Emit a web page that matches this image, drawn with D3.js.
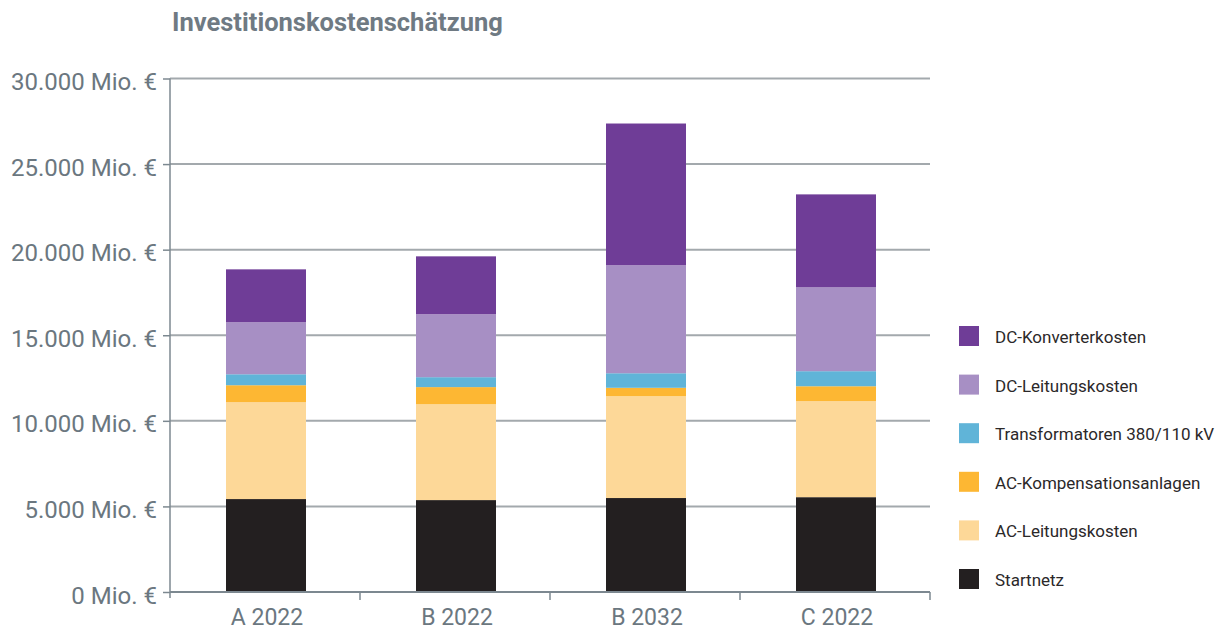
<!DOCTYPE html>
<html>
<head>
<meta charset="utf-8">
<script src="https://cdn.jsdelivr.net/npm/d3@7"></script>
<style>
  html, body { margin: 0; padding: 0; background: #fff; }
  svg { display: block; font-family: Roboto, "Open Sans", sans-serif; }
</style>
</head>
<body>
<svg id="chart" width="1219" height="631"></svg>
<script>
// Kategorien (Szenarien) und Kosten je Kategorie in Mio. €
const scenarios = ["A 2022", "B 2022", "B 2032", "C 2022"];
const startnetz          = [5430, 5370, 5490, 5540];
const acLeitungskosten   = [5660, 5600, 5950, 5610];
const acKompensation     = [990, 1000, 490, 870];
const transformatoren    = [640, 580, 850, 880];
const dcLeitungskosten   = [3040, 3680, 6310, 4900];
const dcKonverterkosten  = [3090, 3380, 8280, 5430];

// Reihen von unten nach oben gestapelt
const seriesNames = [
  "Startnetz",
  "AC-Leitungskosten",
  "AC-Kompensationsanlagen",
  "Transformatoren 380/110 kV",
  "DC-Leitungskosten",
  "DC-Konverterkosten"
];
const seriesValues = [startnetz, acLeitungskosten, acKompensation, transformatoren, dcLeitungskosten, dcKonverterkosten];
const seriesColors = ["#231f20", "#fdd898", "#fdb733", "#60b4d8", "#a78fc4", "#6f3d97"];

const yTicks = [0, 5000, 10000, 15000, 20000, 25000, 30000];
const title = "Investitionskostenschätzung";

const svg = d3.select("#chart");
const margin = { left: 170, right: 930, top: 78.5, bottom: 592 };

const rows = scenarios.map((s, i) => {
  const r = { scenario: s };
  seriesNames.forEach((n, k) => { r[n] = seriesValues[k][i]; });
  return r;
});
const stacked = d3.stack().keys(seriesNames)(rows);

const x = d3.scaleBand().domain(scenarios).range([margin.left, margin.right]).paddingInner(0).paddingOuter(0);
const y = d3.scaleLinear().domain([0, 30000]).range([margin.bottom, margin.top]);
const color = d3.scaleOrdinal().domain(seriesNames).range(seriesColors);

const de = d3.formatLocale({ decimal: ",", thousands: ".", grouping: [3], currency: ["", " €"] });
const fmt = v => de.format(",.0f")(v) + " Mio. €";

const axisColor = "#7c8890";
const labelColor = "#6b7780";

// Titel
svg.append("text")
  .attr("x", 172).attr("y", 31)
  .attr("font-size", 25.5).attr("font-weight", 700)
  .attr("fill", "#6f7a83")
  .text(title);

// Gitterlinien
svg.append("g").selectAll("line")
  .data(yTicks.filter(t => t > 0))
  .join("line")
  .attr("x1", margin.left).attr("x2", margin.right)
  .attr("y1", d => y(d)).attr("y2", d => y(d))
  .attr("stroke", "#a3a9ad").attr("stroke-width", 2);

// Balken
svg.append("g").selectAll("g")
  .data(stacked)
  .join("g")
  .attr("fill", d => color(d.key))
  .selectAll("rect")
  .data(d => d)
  .join("rect")
  .attr("x", d => x(d.data.scenario) + (x.bandwidth() - 80) / 2 + 1)
  .attr("width", 80)
  .attr("y", d => y(d[1]))
  .attr("height", d => y(d[0]) - y(d[1]));

// y-Achse
const yAxis = svg.append("g")
  .attr("transform", `translate(${margin.left},0)`)
  .call(d3.axisLeft(y).tickValues(yTicks).tickFormat(fmt).tickSize(7).tickPadding(6));
yAxis.select(".domain").remove();
yAxis.selectAll(".tick line").attr("stroke", axisColor).attr("stroke-width", 1.5);
yAxis.selectAll(".tick text")
  .attr("fill", labelColor).attr("font-size", 24)
  .attr("dy", "0.38em").attr("y", 2)
  .attr("font-family", "Roboto, sans-serif");
yAxis.append("line")
  .attr("x1", 0).attr("x2", 0)
  .attr("y1", margin.top).attr("y2", margin.bottom + 6)
  .attr("stroke", axisColor).attr("stroke-width", 1.5);

// x-Achse
const xAxis = svg.append("g")
  .attr("transform", `translate(0,${margin.bottom})`);
xAxis.append("line")
  .attr("x1", margin.left).attr("x2", margin.right)
  .attr("y1", 0).attr("y2", 0)
  .attr("stroke", axisColor).attr("stroke-width", 2);
xAxis.selectAll("line.sep")
  .data(scenarios.slice(1).concat(["__end"]))
  .join("line")
  .attr("class", "sep")
  .attr("x1", d => d === "__end" ? margin.right : x(d))
  .attr("x2", d => d === "__end" ? margin.right : x(d))
  .attr("y1", 0).attr("y2", 8)
  .attr("stroke", axisColor).attr("stroke-width", 1.5);
xAxis.selectAll("text")
  .data(scenarios)
  .join("text")
  .attr("x", d => x(d) + x.bandwidth() / 2 + 2)
  .attr("y", 33)
  .attr("text-anchor", "middle")
  .attr("font-size", 23)
  .attr("fill", labelColor)
  .text(d => d);

// Legende (oben: DC-Konverterkosten)
const legendItems = seriesNames.slice().reverse();
const legend = svg.append("g").attr("transform", "translate(959,326)");
const li = legend.selectAll("g")
  .data(legendItems)
  .join("g")
  .attr("transform", (d, i) => `translate(0,${i * 48.6})`);
li.append("rect")
  .attr("width", 20).attr("height", 20)
  .attr("fill", d => color(d));
li.append("text")
  .attr("x", 36).attr("y", 17)
  .attr("font-size", 17)
  .attr("fill", "#2b2829")
  .text(d => d);
</script>
</body>
</html>
